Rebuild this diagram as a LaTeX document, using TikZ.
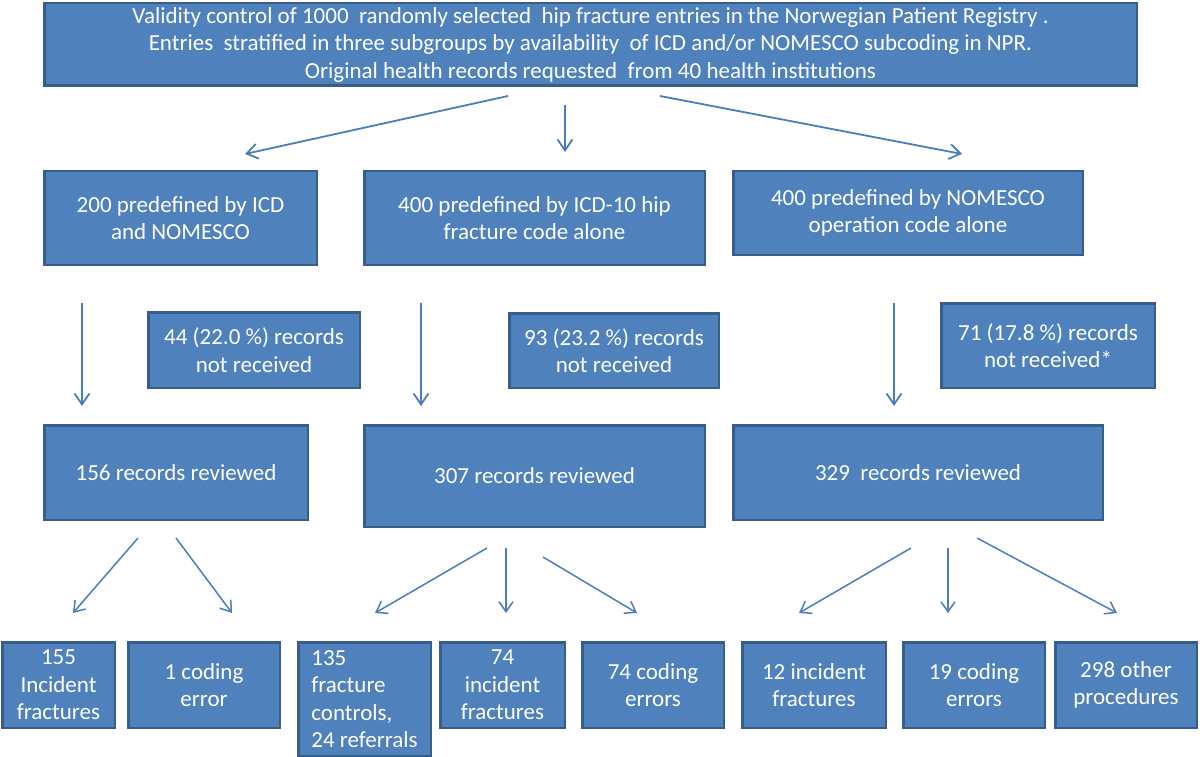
\documentclass[tikz,border=0pt]{standalone}
\usepackage{fontspec}
\setmainfont{Carlito}
\usetikzlibrary{arrows.meta}
\definecolor{boxfill}{HTML}{4F81BD}
\definecolor{boxline}{HTML}{385D8A}
\definecolor{arrowcol}{HTML}{4A7EBB}
\tikzset{
  box/.style={draw=boxline, fill=boxfill, line width=2.5pt, text=white,
    inner sep=0pt, align=center, font=\fontsize{23pt}{27.5pt}\selectfont},
  conn/.style={draw=arrowcol, line width=1.8pt, -{Straight Barb[length=11pt,width=15pt,line width=1.8pt]}},
  connthin/.style={draw=arrowcol, line width=1.5pt, -{Straight Barb[length=10pt,width=14pt,line width=1.5pt]}},
}
\begin{document}
\begin{tikzpicture}[x=1pt,y=-1pt]
\useasboundingbox[fill=white] (0,0) rectangle (1200,757);
% top
\node[box, minimum width=1092.5pt, minimum height=82.5pt] (top) at (590.5,44.5)
  {Validity control of 1000~ randomly selected~ hip fracture entries in the Norwegian Patient Registry .\\
   Entries~ stratified in three subgroups by availability~ of ICD and/or NOMESCO subcoding in NPR.\\
   Original health records requested~ from 40 health institutions};
% second row
\node[box, minimum width=272.5pt, minimum height=93.5pt] (s1) at (180.5,218) {200 predefined by ICD\\and NOMESCO};
\node[box, minimum width=340.5pt, minimum height=93.5pt] (s2) at (534.5,218) {400 predefined by ICD-10 hip\\fracture code alone};
\node[box, minimum width=349.5pt, minimum height=83.5pt] (s3) at (908,213) {400 predefined by NOMESCO\\operation code alone};
% not received
\node[box, minimum width=211.5pt, minimum height=75.5pt] (nA) at (254,350) {44 (22.0 \%) records\\not received};
\node[box, minimum width=209.5pt, minimum height=74.5pt] (nB) at (614,350.5) {93 (23.2 \%) records\\not received};
\node[box, minimum width=213.5pt, minimum height=84.5pt] (nC) at (1048,345.5) {71 (17.8 \%) records\\not received*};
% reviewed
\node[box, minimum width=263.5pt, minimum height=94.5pt] (r1) at (176,472.5) {156 records reviewed};
\node[box, minimum width=340.5pt, minimum height=101.5pt] (r2) at (534.5,476) {307 records reviewed};
\node[box, minimum width=369.5pt, minimum height=94.5pt] (r3) at (918,472.5) {329~ records reviewed};
% bottom
\node[box, minimum width=112.5pt, minimum height=85.5pt] (b1) at (58.5,685) {155\\Incident\\fractures};
\node[box, minimum width=151.5pt, minimum height=85.5pt] (b2) at (204,685) {1 coding\\error};
\node[box, minimum width=132.5pt, minimum height=113.5pt, align=left] (b3) at (364.5,699) {135\\fracture\\controls,\\24 referrals};
\node[box, minimum width=124.5pt, minimum height=85.5pt] (b4) at (502.5,685) {74\\incident\\fractures};
\node[box, minimum width=141.5pt, minimum height=85.5pt] (b5) at (653,685) {74 coding\\errors};
\node[box, minimum width=143.5pt, minimum height=85.5pt] (b6) at (814,685) {12 incident\\fractures};
\node[box, minimum width=141.5pt, minimum height=85.5pt] (b7) at (974,685) {19 coding\\errors};
\node[box, minimum width=141.5pt, minimum height=85.5pt] (b8) at (1126,685) {298 other\\procedures};
% arrow end points
\coordinate (t1s) at (508,96);  \coordinate (t1e) at (245,154);
\coordinate (t2s) at (565,105); \coordinate (t2e) at (565,152);
\coordinate (t3s) at (660,96);  \coordinate (t3e) at (962,154);
\coordinate (m1s) at (82,303);  \coordinate (m1e) at (82,406);
\coordinate (m2s) at (421,303); \coordinate (m2e) at (421,406);
\coordinate (m3s) at (894,303); \coordinate (m3e) at (894,406);
\coordinate (p1s) at (138,538); \coordinate (p1e) at (73,613);
\coordinate (p2s) at (176,538); \coordinate (p2e) at (232,613);
\coordinate (p3s) at (487,548); \coordinate (p3e) at (375,613);
\coordinate (p4s) at (506,548); \coordinate (p4e) at (506,613);
\coordinate (p5s) at (543,557); \coordinate (p5e) at (637,613);
\coordinate (p6s) at (911,548); \coordinate (p6e) at (799,613);
\coordinate (p7s) at (948,548); \coordinate (p7e) at (948,613);
\coordinate (p8s) at (977,538); \coordinate (p8e) at (1117,613);
\draw[conn] (t1s) -- (t1e);
\draw[conn] (t2s) -- (t2e);
\draw[conn] (t3s) -- (t3e);
\draw[conn, line width=2.3pt] (m1s) -- (m1e);
\draw[conn, line width=2.3pt] (m2s) -- (m2e);
\draw[conn, line width=2.3pt] (m3s) -- (m3e);
\draw[connthin] (p1s) -- (p1e);
\draw[connthin] (p2s) -- (p2e);
\draw[connthin] (p3s) -- (p3e);
\draw[connthin] (p4s) -- (p4e);
\draw[connthin] (p5s) -- (p5e);
\draw[connthin] (p6s) -- (p6e);
\draw[connthin] (p7s) -- (p7e);
\draw[connthin] (p8s) -- (p8e);
\end{tikzpicture}
\end{document}
